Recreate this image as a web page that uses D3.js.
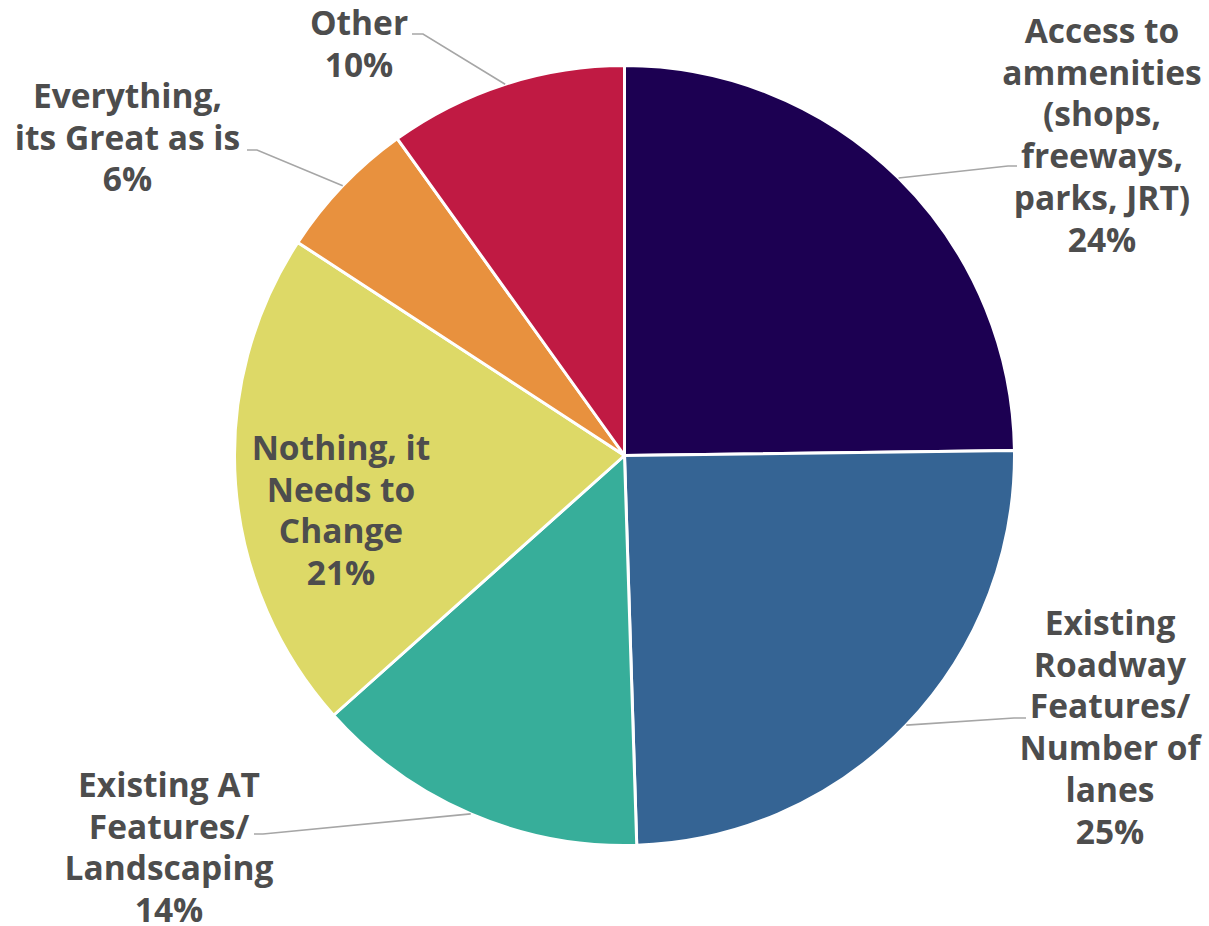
<!DOCTYPE html>
<html><head><meta charset="utf-8">
<script src="https://cdn.jsdelivr.net/npm/d3@7"></script>
<style>body{margin:0;background:#fff} svg{display:block}</style>
</head><body><svg id="chart" width="1209" height="926"></svg>
<script>
// ---- data ----
const categories = [
  "Access to ammenities (shops, freeways, parks, JRT)",
  "Existing Roadway Features/ Number of lanes",
  "Existing AT Features/ Landscaping",
  "Nothing, it Needs to Change",
  "Everything, its Great as is",
  "Other"
];
const values = [24.8, 24.7, 13.9, 20.8, 5.9, 9.9];
const percentLabels = ["24%", "25%", "14%", "21%", "6%", "10%"];
const labelLines = [
  ["Access to", "ammenities", "(shops,", "freeways,", "parks, JRT)"],
  ["Existing", "Roadway", "Features/", "Number of", "lanes"],
  ["Existing AT", "Features/", "Landscaping"],
  ["Nothing, it", "Needs to", "Change"],
  ["Everything,", "its Great as is"],
  ["Other"]
];
const colors = ["#1c0052", "#356494", "#37ae9a", "#ddd967", "#e8913e", "#c01a43"];

// ---- layout ----
const cx = 624.5, cy = 455.5, R = 390;
const lineH = 41.7;
// label placement (centre x, first baseline y, leader kink and end), relative to the svg
const labelLayout = [
  {x: 1102, y: 43,  kink: [1008, 166], end: [1017, 166]},
  {x: 1110, y: 635, kink: [1014, 718], end: [1026, 718]},
  {x: 169,  y: 797, kink: [263, 834],  end: [254, 834]},
  {x: 341,  y: 460, kink: null, end: null},
  {x: 127.5, y: 108, kink: [257, 150], end: [247, 150]},
  {x: 359,  y: 35,  kink: [423, 34],   end: [412, 34]}
];

const svg = d3.select("#chart");
const g = svg.append("g").attr("transform", `translate(${cx},${cy})`);

const pie = d3.pie().sort(null).value(d => d).startAngle(0).endAngle(2 * Math.PI);
const arcs = pie(values);
const arc = d3.arc().innerRadius(0).outerRadius(R);
const rim = d3.arc().innerRadius(R).outerRadius(R);

g.selectAll("path.slice").data(arcs).join("path")
  .attr("class", "slice")
  .attr("d", arc)
  .attr("fill", (d, i) => colors[i])
  .attr("stroke", "#ffffff")
  .attr("stroke-width", 3)
  .attr("stroke-linejoin", "round");

// leader lines
const leaders = svg.append("g");
arcs.forEach((d, i) => {
  const L = labelLayout[i];
  if (!L.end) return;
  const s = rim.centroid(d);
  const pts = [[s[0] + cx, s[1] + cy], L.kink, L.end];
  leaders.append("path")
    .attr("d", d3.line()(pts))
    .attr("fill", "none")
    .attr("stroke", "#a6a6a6")
    .attr("stroke-width", 1.6);
});

// labels
const labels = svg.append("g")
  .attr("font-family", "'Open Sans', 'Liberation Sans', sans-serif")
  .attr("font-weight", 700)
  .attr("font-size", 33.5)
  .attr("fill", "#4d4d4d")
  .attr("text-anchor", "middle");

categories.forEach((c, i) => {
  const L = labelLayout[i];
  const lines = labelLines[i].concat([percentLabels[i]]);
  const t = labels.append("text").attr("x", L.x).attr("y", L.y);
  lines.forEach((ln, k) => {
    t.append("tspan").attr("x", L.x).attr("y", L.y + k * lineH).text(ln);
  });
});
</script>
</body></html>
